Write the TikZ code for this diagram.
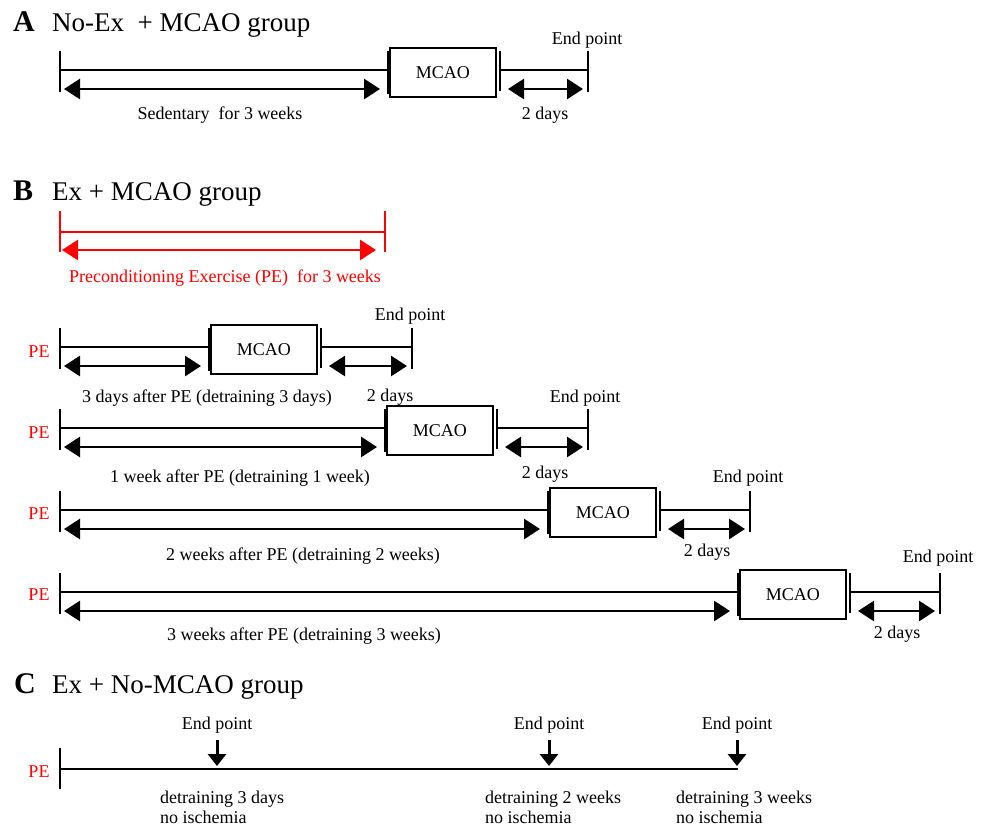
\documentclass[tikz,border=0pt]{standalone}
\usepackage{fontspec}
\setmainfont{Liberation Serif}
\usetikzlibrary{arrows.meta}
\definecolor{pered}{RGB}{255,0,0}
\newcommand\mkrow[4]{%
  \coordinate (#1s) at (60,#2);
  \coordinate (#1st) at (60,#2-19);
  \coordinate (#1sb) at (60,#2+22);
  \node[mcao] (#1box) at (#3,#2+2.5) {MCAO};
  \coordinate (#1bt) at (#3-1.5,#2-19);
  \coordinate (#1bb) at (#3-1.5,#2+24);
  \coordinate (#1p) at (#3+111,#2);
  \coordinate (#1pt) at (#3+111,#2-19);
  \coordinate (#1pb) at (#3+111,#2+21);
  \coordinate (#1e) at (#4,#2);
  \coordinate (#1et) at (#4,#2-19);
  \coordinate (#1eb) at (#4,#2+22);
  \coordinate (#1a) at (64,#2+19);
  \coordinate (#1b) at (#3-9,#2+19);
  \coordinate (#1c) at (#3+119,#2+19);
  \coordinate (#1d) at (#4-5,#2+19);
  \draw[tl] (#1st) -- (#1sb);
  \draw[tl] (#1s) -- (#1box.west |- #1s);
  \draw[tl] (#1bt) -- (#1bb);
  \draw[tl] (#1pt) -- (#1pb);
  \draw[tl] (#1p) -- (#1e);
  \draw[tl] (#1et) -- (#1eb);
  \draw[dbl] (#1a) -- (#1b);
  \draw[dbl] (#1c) -- (#1d);
}
\begin{document}
\begin{tikzpicture}[x=1pt,y=-1pt,
  tl/.style={line width=2pt},
  dbl/.style={line width=2.8pt,{Triangle[length=16pt,width=20pt]}-{Triangle[length=16pt,width=20pt]}},
  downarr/.style={line width=3pt,-{Triangle[length=12pt,width=18pt]}},
  lbl/.style={font=\fontsize{18}{20}\selectfont, inner sep=0pt},
  ttl/.style={font=\fontsize{27}{30}\selectfont, anchor=base west, inner sep=0pt},
  grp/.style={font=\fontsize{30}{32}\selectfont\bfseries, anchor=base west, inner sep=0pt},
  mcao/.style={draw, line width=1.6pt, minimum width=106pt, minimum height=49pt, inner sep=0pt, font=\fontsize{18}{20}\selectfont, anchor=west},
  petext/.style={lbl, text=pered}]
\useasboundingbox (0,0) rectangle (987,828);

% ---------- A ----------
\node[grp] (gA) at (13,31) {A};
\node[ttl] (tA) at (52,31) {No-Ex\ \ + MCAO group};
\mkrow{A}{70}{389}{588}
\node[lbl] (Aend) at (587,40) {End point};
\node[lbl] (Alab) at (220,115) {Sedentary\ \ for 3 weeks};
\node[lbl] (Aday) at (545,115) {2 days};

% ---------- B ----------
\node[grp] (gB) at (13,200) {B};
\node[ttl] (tB) at (52,200) {Ex + MCAO group};
\coordinate (Rs) at (60,232);
\coordinate (Rst) at (60,211);
\coordinate (Rsb) at (60,252);
\coordinate (Re) at (385,232);
\coordinate (Ret) at (385,211);
\coordinate (Reb) at (385,252);
\coordinate (Ra) at (62,250);
\coordinate (Rb) at (376,250);
\draw[tl,pered] (Rst) -- (Rsb);
\draw[tl,pered] (Ret) -- (Reb);
\draw[tl,pered] (Rs) -- (Re);
\draw[dbl,pered] (Ra) -- (Rb);
\node[petext] (Rlab) at (225,278) {Preconditioning Exercise (PE)\ \ for 3 weeks};

\mkrow{P}{347}{210}{412}
\node[petext] (Ppe) at (39,352) {PE};
\node[lbl] (Pend) at (410,316) {End point};
\node[lbl] (Plab) at (207,398) {3 days after PE (detraining 3 days)};
\node[lbl] (Pday) at (390,397) {2 days};

\mkrow{Q}{428}{386}{588}
\node[petext] (Qpe) at (39,433) {PE};
\node[lbl] (Qend) at (585,398) {End point};
\node[lbl] (Qlab) at (240,478) {1 week after PE (detraining 1 week)};
\node[lbl] (Qday) at (545,474) {2 days};

\mkrow{S}{510}{549}{750}
\node[petext] (Spe) at (39,514) {PE};
\node[lbl] (Send) at (748,478) {End point};
\node[lbl] (Slab) at (303,556) {2 weeks after PE (detraining 2 weeks)};
\node[lbl] (Sday) at (707,552) {2 days};

\mkrow{T}{592}{739}{940}
\node[petext] (Tpe) at (39,595) {PE};
\node[lbl] (Tend) at (938,558) {End point};
\node[lbl] (Tlab) at (304,636) {3 weeks after PE (detraining 3 weeks)};
\node[lbl] (Tday) at (897,634) {2 days};

% ---------- C ----------
\node[grp] (gC) at (14,693) {C};
\node[ttl] (tC) at (52,693) {Ex + No-MCAO group};
\node[petext] (Cpe) at (39,772) {PE};
\coordinate (Cs) at (60,769);
\coordinate (Cst) at (60,748);
\coordinate (Csb) at (60,789);
\coordinate (Ce) at (738,769);
\draw[tl] (Cst) -- (Csb);
\draw[tl] (Cs) -- (Ce);
\coordinate (d1t) at (217,740);
\coordinate (d1b) at (217,766);
\coordinate (d2t) at (549,740);
\coordinate (d2b) at (549,766);
\coordinate (d3t) at (737,740);
\coordinate (d3b) at (737,766);
\draw[downarr] (d1t) -- (d1b);
\draw[downarr] (d2t) -- (d2b);
\draw[downarr] (d3t) -- (d3b);
\node[lbl] (e1) at (217,725) {End point};
\node[lbl] (e2) at (549,725) {End point};
\node[lbl] (e3) at (737,725) {End point};
\node[lbl, anchor=west, align=left] (n1) at (160,807) {detraining 3 days\\no ischemia};
\node[lbl, anchor=west, align=left] (n2) at (485,807) {detraining 2 weeks\\no ischemia};
\node[lbl, anchor=west, align=left] (n3) at (676,807) {detraining 3 weeks\\no ischemia};
\end{tikzpicture}
\end{document}
